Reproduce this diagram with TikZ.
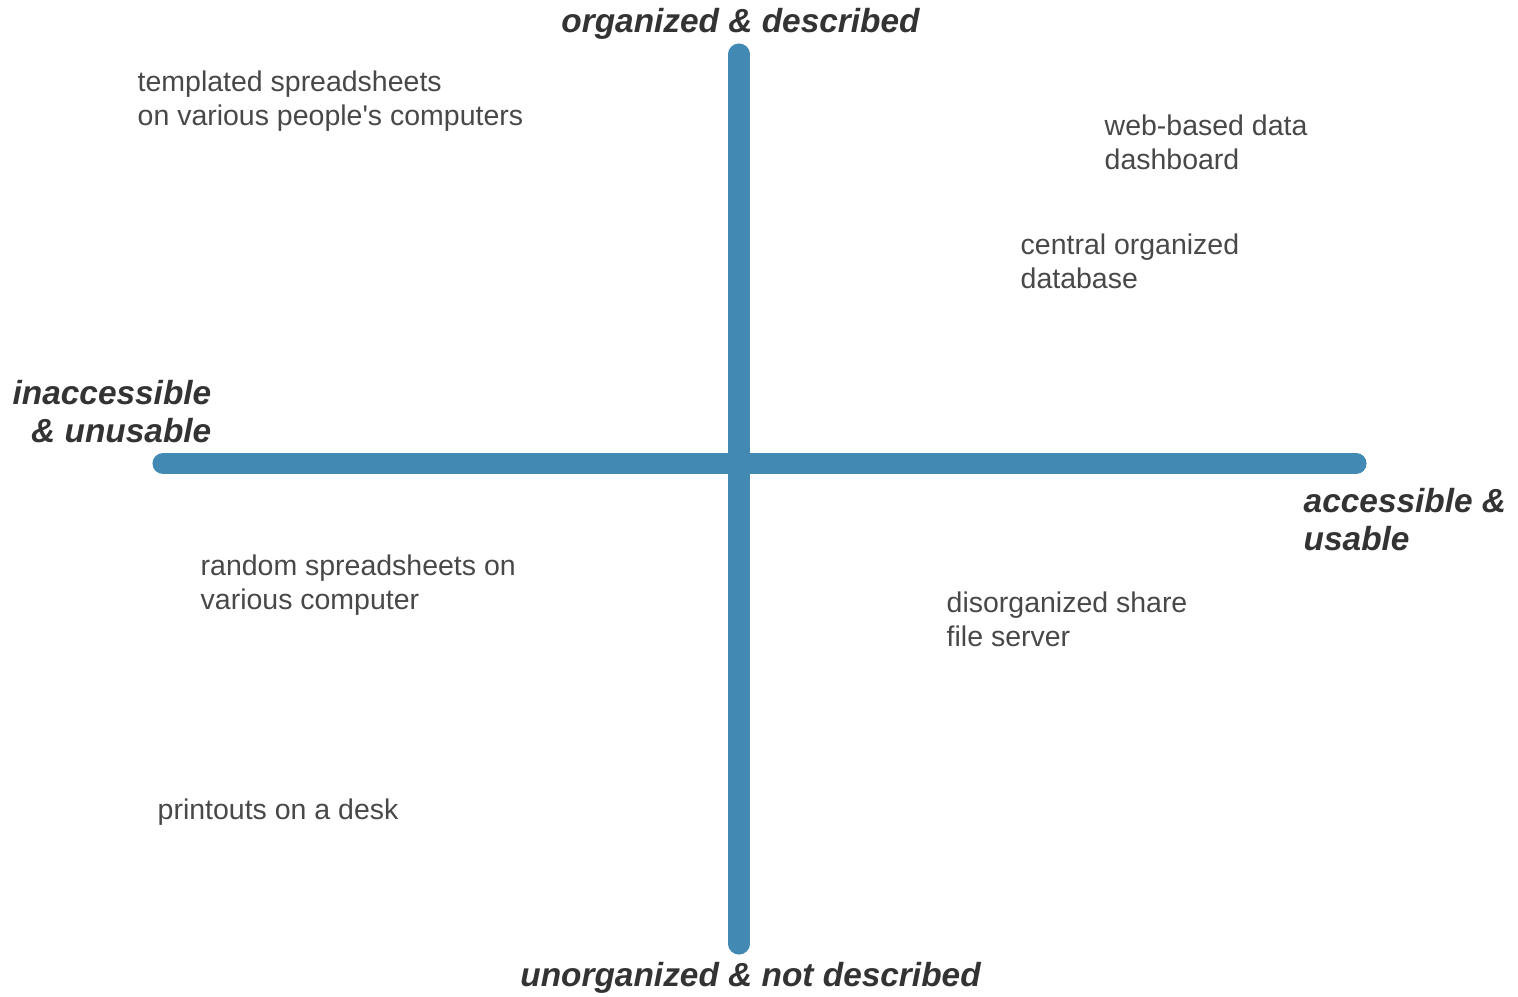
\documentclass[tikz,border=0pt]{standalone}
\usepackage{fontspec}
\setmainfont{Liberation Sans}
\usetikzlibrary{positioning}
\definecolor{axisblue}{RGB}{66,137,179}
\definecolor{polegray}{RGB}{51,51,51}
\definecolor{itemgray}{RGB}{72,72,72}

\begin{document}
\begin{tikzpicture}[
      x=0.01cm, y=-0.01cm,
      axis/.style={draw=axisblue, line width=6pt, line cap=round},
      pole/.style={font=\fontsize{9.5}{10.8}\selectfont\bfseries\itshape, text=polegray, inner sep=0pt},
      item/.style={font=\fontsize{8.1}{9.4}\selectfont, text=itemgray, inner sep=0pt, align=left, anchor=base west}
  ]
      \useasboundingbox (0,0) rectangle (1518,996);

      % Axes
      \coordinate (top)    at (739,54);
      \coordinate (bottom) at (739,944);
      \coordinate (left)   at (163,463.5);
      \coordinate (right)  at (1356,463.5);
      \draw[axis] (left) -- (right);
      \draw[axis] (top) -- (bottom);

      % Poles (base = last line)
      \node[pole, anchor=base] (organized) at (740.5,32) {organized \& described};
      \node[pole, anchor=base] (unorganized) at (750.5,986) {unorganized \& not described};
      \node[pole, anchor=base east, align=right] (inaccessible) at (212,442) {inaccessible\\\& unusable};
      \node[pole, anchor=base west, align=left] (accessible) at (1303,550) {accessible \&\\usable};

      % Examples
      \node[item] (templated) at (137,125)  {templated spreadsheets\\on various people\textquotesingle s computers};
      \node[item] (dashboard) at (1104,169) {web-based data\\dashboard};
      \node[item] (database)  at (1020,288) {central organized\\database};
      \node[item] (random)    at (200,609)  {random spreadsheets on\\various computer};
      \node[item] (share)     at (946,646)  {disorganized share\\file server};
      \node[item] (printouts) at (157,819)  {printouts on a desk};
  \end{tikzpicture}
\end{document}
